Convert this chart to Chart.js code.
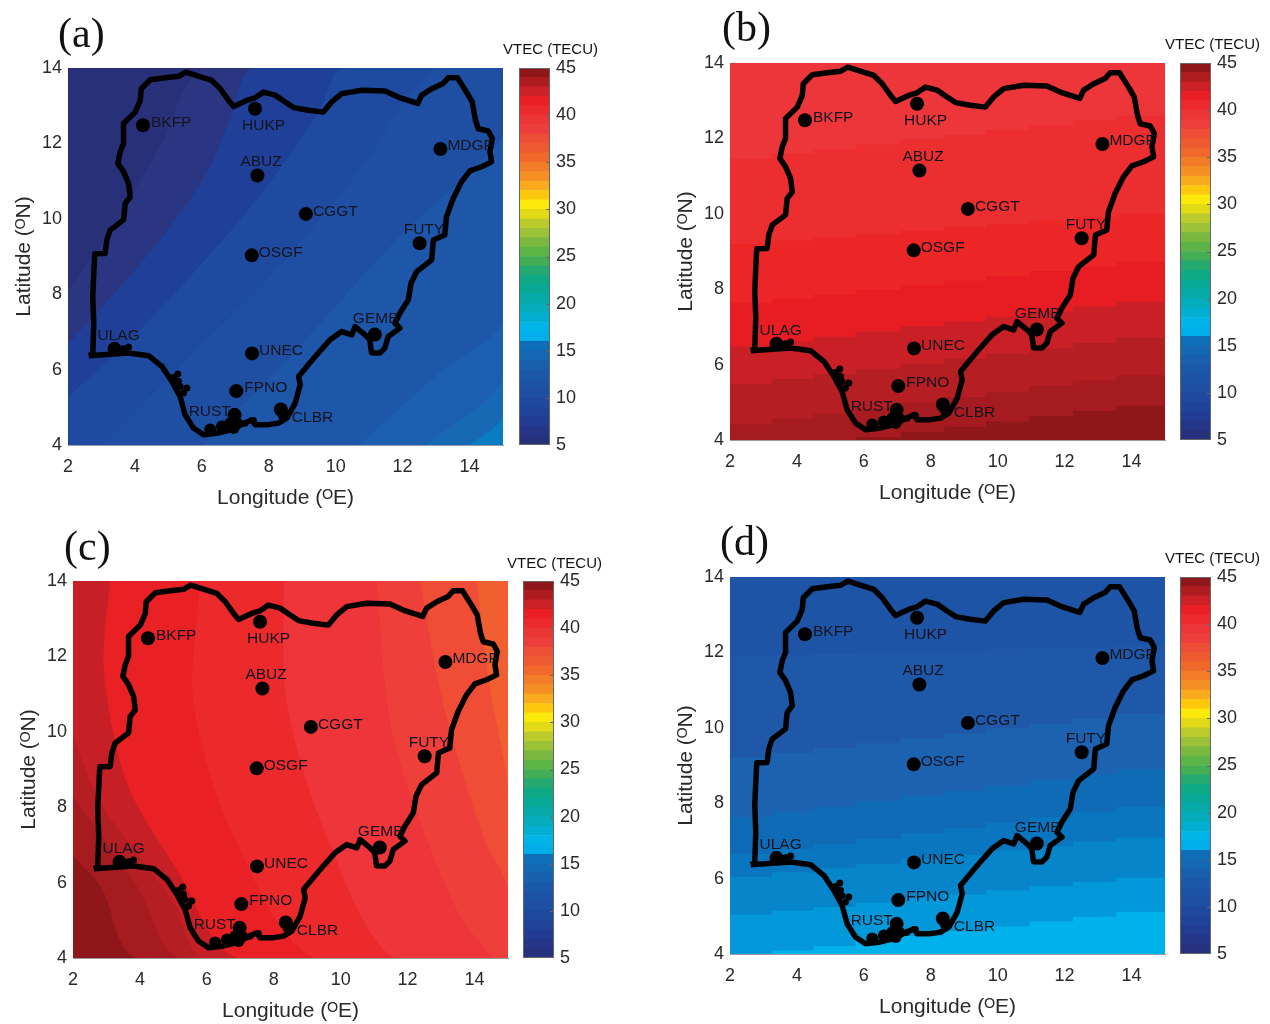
<!DOCTYPE html>
<html>
<head>
<meta charset="utf-8">
<title>VTEC maps</title>
<script src="https://cdn.jsdelivr.net/npm/chart.js@4"></script>
<style>
body{margin:0;background:#fff;width:1270px;height:1024px;overflow:hidden;position:relative;font-family:"Liberation Sans",Arial,sans-serif;}
canvas{position:absolute;filter:blur(0.5px);}
.letter{position:absolute;font-family:"Liberation Serif",serif;font-size:42px;line-height:48px;color:#111;}
.unit{position:absolute;font-size:15px;line-height:18px;color:#111;white-space:nowrap;}
</style>
</head>
<body>
<script>
// Nigeria border
var borderLon = [2.62,2.74,2.77,2.74,2.77,2.80,3.11,3.16,3.26,3.66,3.71,3.86,3.81,3.66,3.49,3.56,3.66,3.66,4.01,4.16,4.19,4.46,4.91,5.30,5.52,5.80,6.30,6.55,6.80,6.95,7.14,7.34,7.59,7.84,8.19,8.49,8.74,9.18,9.63,9.88,10.18,10.78,11.47,11.87,12.17,12.45,12.57,12.87,13.21,13.36,13.64,13.91,14.08,14.18,14.26,14.56,14.68,14.61,14.66,14.36,14.01,13.76,13.51,13.31,13.26,12.92,12.87,12.42,12.25,12.17,11.92,11.77,11.92,11.57,11.47,11.32,11.07,11.02,10.88,10.58,10.48,10.18,9.83,9.48,9.18,8.89,8.94,8.79,8.54,8.29,7.99,7.59,7.49,7.19,6.90,6.50,6.05,5.75,5.50,5.35,5.10,4.81,4.41,3.81,2.62];
var borderLat = [6.37,6.41,7.23,7.94,8.55,9.07,9.08,9.44,9.70,9.97,10.41,10.58,10.94,11.25,11.47,11.78,12.00,12.53,12.83,13.14,13.45,13.69,13.74,13.78,13.89,13.81,13.67,13.45,13.14,12.98,13.06,13.14,13.21,13.36,13.28,13.10,12.95,12.88,12.83,13.10,13.32,13.41,13.39,13.23,13.14,13.06,13.28,13.45,13.59,13.74,13.74,13.36,13.10,12.61,12.39,12.33,12.13,11.78,11.51,11.38,11.27,10.98,10.54,10.05,9.57,9.44,8.91,8.60,8.29,7.85,7.50,7.23,7.10,6.88,6.57,6.44,6.45,6.79,6.92,7.14,6.92,7.01,6.79,6.44,6.13,5.82,5.60,5.11,4.71,4.58,4.54,4.54,4.67,4.54,4.41,4.32,4.27,4.45,4.80,5.29,5.69,6.08,6.37,6.44,6.37];

var stationNames = ["BKFP","HUKP","ABUZ","MDGF","CGGT","FUTY","OSGF","GEMB","ULAG","UNEC","FPNO","RUST","CLBR"];
var stationLon = [4.24,7.59,7.66,13.13,9.11,12.51,7.49,11.17,3.39,7.50,7.03,6.98,8.36];
var stationLat = [12.48,12.92,11.15,11.85,10.13,9.35,9.03,6.93,6.55,6.43,5.43,4.80,4.94];

// small coast blobs next to the stations
var smallSpotLon = [3.66,3.81,5.15,5.28,5.35,5.55,5.45,5.30,7.29,7.54];
var smallSpotLat = [6.55,6.60,5.79,5.88,5.55,5.51,5.38,5.69,4.58,4.65];
var bigSpotLon = [6.25,6.60,6.85,7.05,6.95,8.44];
var bigSpotLat = [4.41,4.49,4.58,4.58,4.45,4.80];

var xTicks = [2,4,6,8,10,12,14];
var yTicks = [4,6,8,10,12,14];
var barTicks = [5,10,15,20,25,30,35,40,45];

// colour bar, one colour per TECU from 5 to 45
var barColors = ["#27327e","#253688","#213c92","#1f4398","#1e499e","#1e4fa3","#1d53a6","#1b58aa","#1860ae","#1367b3","#0e6fb8","#00aeea","#00b4e8","#03afd0","#04acbc","#06aaa8","#08a997","#0fa985","#24aa70","#43ae55","#5cb346","#7ab83f","#9bc238","#bccb2c","#e2da17","#fbe90c","#fdc70e","#f9ab1d","#f58f24","#f37c28","#f1682b","#ef5930","#ee4d36","#ed3e3b","#ec3537","#ec2a2d","#ea1e25","#cc2027","#ae1c20","#8f1719"];

// (a) contour boundaries, lon/lat pairs, dark corner first
var aBase = "#28307a";
var aColors = ["#2b3683","#1f3f98","#1e4a9f","#1f4fa3","#1e56a9","#1c5fb0","#1869b4","#0a7dc2"];
var aLon = [[2,3.34,4.74,6.13],[2,2.85,4.74,6.13,6.83,7.57],[2,3.54,5.73,7.92,9.51,10.21],[3.04,5.73,8.12,10.71,13],[6.03,8.72,11.7,15],[10.7,13.19,15],[12.7,15],[14,15]];
var aLat = [[8.10,9.78,11.90,14],[6.69,7.49,9.43,11.19,12.61,14],[5.28,6.52,8.55,10.84,12.87,14],[4,6.43,8.55,11.28,14],[4,6.43,9.34,12.16],[4,5.99,7.31],[4,5.81],[4,4.79]];

// (b) and (d) boundaries are stepped, same longitudes for each one
var stepLon = [1,2.6,3.9,5.1,6.4,7.8,9.0,10.3,11.6,12.9,14.2,16];
var bBase = "#ed3639";
var bColors = ["#ec2e31","#ec2626","#e81d24","#c92027","#b51e23","#a51b1f","#8f1719"];
var bLat = [
  [11.30,11.47,11.60,11.71,11.84,11.98,12.10,12.22,12.35,12.48,12.60,12.80],
  [9.10,9.20,9.29,9.37,9.46,9.56,9.64,9.73,9.82,9.91,10.00,10.10],
  [7.50,7.63,7.75,7.86,7.98,8.12,8.23,8.36,8.48,8.60,8.73,8.90],
  [6.33,6.49,6.62,6.74,6.88,7.02,7.14,7.27,7.41,7.54,7.67,7.85],
  [5.32,5.48,5.62,5.75,5.89,6.03,6.16,6.29,6.43,6.57,6.71,6.90],
  [4.24,4.42,4.57,4.70,4.84,5.00,5.14,5.28,5.43,5.57,5.72,5.95],
  [3.50,3.66,3.80,3.93,4.07,4.22,4.35,4.49,4.63,4.77,4.91,5.10]
];
var dBase = "#1d54a6";
var dColors = ["#1f58a9","#1c62b0","#0f6bb6","#0a76bf","#0685cb","#0298d9","#00b1eb"];
var dLat = [
  [11.85,11.90,11.93,11.96,11.99,12.03,12.06,12.09,12.12,12.15,12.18,12.25],
  [9.05,9.21,9.34,9.46,9.59,9.73,9.85,9.98,10.11,10.24,10.37,10.55],
  [7.45,7.63,7.77,7.90,8.05,8.20,8.33,8.47,8.62,8.76,8.90,9.10],
  [6.47,6.65,6.79,6.92,7.06,7.21,7.34,7.48,7.62,7.76,7.90,8.10],
  [5.91,6.05,6.17,6.28,6.39,6.52,6.63,6.75,6.86,6.98,7.10,7.25],
  [4.90,5.04,5.15,5.25,5.36,5.48,5.58,5.69,5.80,5.91,6.02,6.17],
  [3.80,3.96,4.09,4.21,4.34,4.48,4.60,4.73,4.86,4.99,5.12,5.30]
];

// (c) arcs round the south west corner
var cBase = "#8f1719";
var cColors = ["#a51b20","#b51e23","#c61f26","#e92024","#ec2a2c","#ee3539","#ef3f3b","#f04d36","#f15f30"];
var cLon = [[2,2.82,3.91],[2,3.91,5.2],[2,2.82,5,5.9],[3.11,2.92,3.61,5.1,6.9],[5.8,5.6,6.8,9.18],[8.29,8.39,9.58,11.57],[11.07,11.57,13.36,14.56],[12.37,13.06,14.26,15],[14.06,14.46,15]];
var cLat = [[6.70,5.91,4],[8.29,5.91,4],[9.88,8.11,5.47,4],[14,11.64,8.64,6.35,4],[14,10.76,7.23,4],[14,10.76,7.23,4],[14,9.88,5.47,4],[14,10.76,7.23,5.91],[14,11.2,8.64]];

// label offsets from the station dot, px
var labelDx = [8,-13,-17,7,7,-16,7,-22,-17,7,8,-46,11];
var labelDy = [-3,17,-14,-3,-2,-14,-3,-16,-13,-3,-3,-3,8];

var axisTitleFont = {family:'"Liberation Sans","DejaVu Sans",sans-serif', size:21};
var tickFont = {family:'"Liberation Sans",sans-serif', size:18};
var textColor = "#2a2a2a";

function pairs(xs, ys){
    var out = [];
    for(var i=0;i<xs.length;i++){
        out.push({x:xs[i], y:ys[i]});
    }
    return out;
}

function addCanvas(left, top, w, h){
    var c = document.createElement("canvas");
    c.width = w; c.height = h;
    c.style.left = left+"px"; c.style.top = top+"px";
    c.style.width = w+"px"; c.style.height = h+"px";
    document.body.appendChild(c);
    return c;
}

function addText(cls, text, left, top){
    var d = document.createElement("div");
    d.className = cls;
    d.textContent = text;
    d.style.left = left+"px"; d.style.top = top+"px";
    document.body.appendChild(d);
}

// sits under the bands and draws the station names on top
function mapPlugin(base){
    return {
        id: "mapExtras",
        beforeDatasetsDraw: function(chart){
            var a = chart.chartArea;
            chart.ctx.fillStyle = base;
            chart.ctx.fillRect(a.left, a.top, a.width, a.height);
        },
        afterDatasetsDraw: function(chart){
            var ctx = chart.ctx;
            ctx.save();
            ctx.font = '15.5px "Liberation Sans",sans-serif';
            ctx.fillStyle = "#14141f";
            ctx.textBaseline = "middle";
            for(var i=0;i<stationNames.length;i++){
                var px = chart.scales.x.getPixelForValue(stationLon[i]);
                var py = chart.scales.y.getPixelForValue(stationLat[i]);
                ctx.fillText(stationNames[i], px+labelDx[i], py+labelDy[i]);
            }
            ctx.restore();
        }
    };
}

function noEdgePadding(s){
    s.paddingTop = 0; s.paddingBottom = 0; s.paddingLeft = 0; s.paddingRight = 0;
}

function drawMap(left, top, base, bands, closing, stepped, tension){
    var sets = [];
    for(var i=0;i<bands.length;i++){
        sets.push({
            data: bands[i].pts.concat(closing),
            showLine: true, fill: "shape",
            backgroundColor: bands[i].color,
            borderWidth: 0, pointRadius: 0,
            stepped: stepped,
            tension: tension,
            order: 100-i
        });
    }
    sets.push({data:pairs(borderLon,borderLat), showLine:true, borderColor:"#000", borderWidth:5.5, pointRadius:0, borderJoinStyle:"round", order:5});
    sets.push({data:pairs(smallSpotLon,smallSpotLat), showLine:false, backgroundColor:"#000", pointRadius:3.5, pointBorderWidth:0, order:4});
    sets.push({data:pairs(bigSpotLon,bigSpotLat), showLine:false, backgroundColor:"#000", pointRadius:6, pointBorderWidth:0, order:3});
    sets.push({data:pairs(stationLon,stationLat), showLine:false, backgroundColor:"#000", pointRadius:7, pointBorderWidth:0, order:2});

    var yAxisW = 56, xAxisH = 66;
    var c = addCanvas(left-yAxisW, top-12, yAxisW+435+12, 12+377+xAxisH);
    new Chart(c, {
        type: "scatter",
        data: {datasets: sets},
        plugins: [mapPlugin(base)],
        options: {
            responsive: false,
            animation: false,
            elements: {line: {capBezierPoints:false}},
            layout: {padding: {top:12, right:12, left:0, bottom:0}},
            plugins: {legend:{display:false}, tooltip:{enabled:false}},
            scales: {
                x: {
                    type:"linear", min:2, max:15,
                    afterFit: function(s){ s.height = xAxisH; noEdgePadding(s); },
                    afterBuildTicks: function(s){ s.ticks = xTicks.map(function(v){return {value:v};}); },
                    grid:{display:false, drawTicks:false},
                    border:{color:"#9a9aa5"},
                    ticks:{font:tickFont, color:textColor, padding:11, maxRotation:0},
                    title:{display:true, text:"Longitude (\u1D3CE)", font:axisTitleFont, color:textColor, padding:0}
                },
                y: {
                    type:"linear", min:4, max:14,
                    afterFit: function(s){ s.width = yAxisW; noEdgePadding(s); },
                    afterBuildTicks: function(s){ s.ticks = yTicks.map(function(v){return {value:v};}); },
                    grid:{display:false, drawTicks:false},
                    border:{color:"#9a9aa5"},
                    ticks:{font:tickFont, color:textColor, padding:6},
                    title:{display:true, text:"Latitude (\u1D3CN)", font:axisTitleFont, color:textColor, padding:0}
                }
            }
        }
    });
}

function drawBar(left, top){
    var sets = [];
    for(var i=0;i<barColors.length;i++){
        sets.push({data:[[barTicks[0]+i, barTicks[0]+i+1]], backgroundColor:barColors[i], borderWidth:0, barPercentage:1, categoryPercentage:1});
    }
    var c = addCanvas(left, top-12, 31+42, 377+24);
    new Chart(c, {
        type: "bar",
        data: {labels:["VTEC"], datasets:sets},
        plugins: [{
            id:"barFrame",
            afterDatasetsDraw: function(chart){
                var a = chart.chartArea, ctx = chart.ctx, s = chart.scales.y;
                ctx.save();
                ctx.strokeStyle = "#666";
                ctx.lineWidth = 1;
                ctx.strokeRect(a.left+0.5, a.top+0.5, a.width-1, a.height-1);
                ctx.beginPath();
                for(var i=1;i<barTicks.length-1;i++){
                    var py = Math.round(s.getPixelForValue(barTicks[i]))+0.5;
                    ctx.moveTo(a.right-4, py); ctx.lineTo(a.right, py);
                }
                ctx.stroke();
                ctx.restore();
            }
        }],
        options: {
            responsive:false, animation:false,
            layout:{padding:{top:12,bottom:12,left:0,right:0}},
            plugins:{legend:{display:false}, tooltip:{enabled:false}},
            scales:{
                x:{display:false, stacked:true},
                y:{
                    position:"right", min:5, max:45,
                    afterFit:function(s){ s.width = 42; noEdgePadding(s); },
                    afterBuildTicks: function(s){ s.ticks = barTicks.map(function(v){return {value:v};}); },
                    grid:{display:false, drawTicks:false}, border:{display:false},
                    ticks:{font:tickFont, color:textColor, padding:6}
                }
            }
        }
    });
}

function bandsFromPairs(lons, lats, colors){
    var out = [];
    for(var i=0;i<colors.length;i++){
        out.push({pts:pairs(lons[i],lats[i]), color:colors[i]});
    }
    return out;
}
function bandsFromSteps(lats, colors){
    var out = [];
    for(var i=0;i<colors.length;i++){
        out.push({pts:pairs(stepLon,lats[i]), color:colors[i]});
    }
    return out;
}

// far corners that close each band outside the plot
var closeSE = [{x:16,y:14},{x:16,y:3},{x:1,y:3}];
var closeS = [{x:16,y:3},{x:1,y:3}];
var closeE = [{x:16,y:3},{x:16,y:15},{x:1,y:15}];

drawMap(68, 68, aBase, bandsFromPairs(aLon,aLat,aColors), closeSE, false, 0.3);
drawBar(519, 68);
drawMap(730, 63, bBase, bandsFromSteps(bLat,bColors), closeS, "middle", 0);
drawBar(1180, 63);
drawMap(73, 581, cBase, bandsFromPairs(cLon,cLat,cColors), closeE, false, 0.3);
drawBar(523, 581);
drawMap(730, 577, dBase, bandsFromSteps(dLat,dColors), closeS, "middle", 0);
drawBar(1180, 577);

addText("letter", "(a)", 58, 9);
addText("letter", "(b)", 722, 3);
addText("letter", "(c)", 64, 522);
addText("letter", "(d)", 720, 517);
addText("unit", "VTEC (TECU)", 503, 40);
addText("unit", "VTEC (TECU)", 1165, 35);
addText("unit", "VTEC (TECU)", 507, 554);
addText("unit", "VTEC (TECU)", 1165, 549);
</script>
</body>
</html>
